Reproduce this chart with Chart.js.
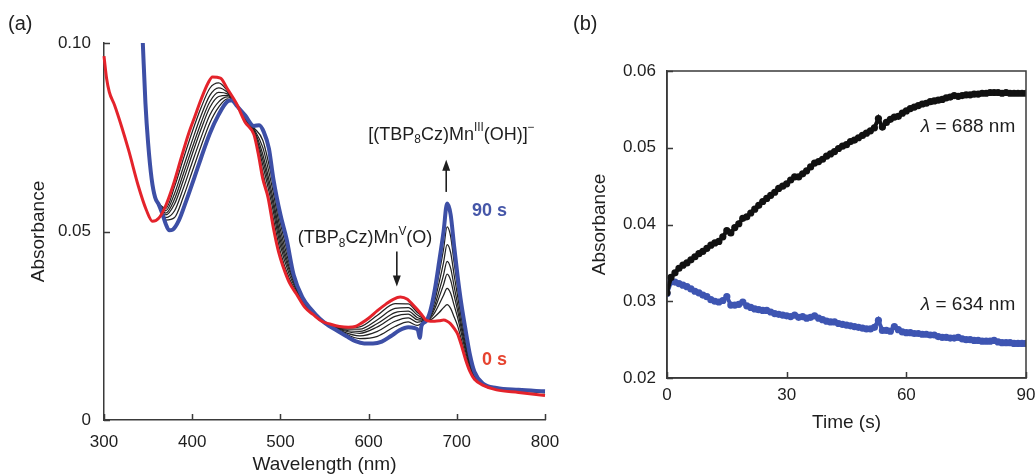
<!DOCTYPE html>
<html>
<head>
<meta charset="utf-8">
<title>Mn(V)-oxo decay spectra</title>
<script src="https://cdn.jsdelivr.net/npm/chart.js@4.4.0/dist/chart.umd.min.js"></script>
<style>
    html, body { margin: 0; padding: 0; background: #fff; }
    body { width: 1035px; height: 476px; position: relative; overflow: hidden; font-family: "Liberation Sans", Arial, sans-serif; }
    .panel { position: absolute; top: 0; }
    /* canvases are a bit wider than their panels so the last tick label fits */
    #panel-a { left: 0; width: 572px; height: 476px; }
    #panel-b { left: 560px; width: 485px; height: 476px; }
    .tag { position: absolute; top: 12px; font-size: 20px; color: #222; z-index: 2; }
</style>
</head>
<body>
<div class="tag" style="left:8px">(a)</div>
<div class="tag" style="left:573px">(b)</div>
<div id="panel-a" class="panel"><canvas id="spectra" width="572" height="476"></canvas></div>
<div id="panel-b" class="panel"><canvas id="kinetics" width="485" height="476"></canvas></div>

<script>
// ---- (a) spectra: 0 s (red), 90 s (blue) and the scans in between ----
const wlRed = [300, 303, 306, 312, 320, 328, 339, 348, 355, 362, 369, 378, 388, 396, 403, 410, 418, 423, 432, 440,
    450, 460, 470, 475, 480, 486, 492, 498, 503, 510, 518, 528, 537, 547, 557, 567, 577, 585, 592, 600,
    610, 620, 628, 636, 644, 650, 655, 660, 665, 670, 675, 680, 685, 689, 693, 697, 701, 705, 710, 715,
    720, 730, 745, 770, 800];
const absRed = [0.0965, 0.0905, 0.0870, 0.0835, 0.0778, 0.0715, 0.0620, 0.0557, 0.0527, 0.0535, 0.0563, 0.0620, 0.0699, 0.0760, 0.0805, 0.0850, 0.0894, 0.0910, 0.0907, 0.0878,
    0.0840, 0.0790, 0.0757, 0.0705, 0.0640, 0.0590, 0.0510, 0.0445, 0.0407, 0.0365, 0.0335, 0.0298, 0.0280, 0.0262, 0.0254, 0.0248, 0.0246, 0.0248, 0.0257, 0.0270,
    0.0290, 0.0308, 0.0320, 0.0326, 0.0320, 0.0306, 0.0294, 0.0280, 0.0265, 0.0262, 0.0262, 0.0263, 0.0265, 0.0262, 0.0255, 0.0243, 0.0228, 0.0200, 0.0160, 0.0128,
    0.0108, 0.0092, 0.0080, 0.0073, 0.0065];

const wlBlue = [344, 347, 350, 354, 358, 362, 366, 370, 374, 378, 385, 393, 403, 410, 420, 430, 440, 445, 450, 460,
    470, 476, 481, 487, 492, 500, 507, 515, 525, 535, 545, 555, 565, 575, 585, 595, 605, 615, 625, 635,
    645, 652, 656, 658, 660, 665, 670, 675, 680, 685, 689, 693, 697, 701, 705, 710, 715, 720, 730, 745,
    770, 800];
const absBlue = [0.1000, 0.0840, 0.0735, 0.0640, 0.0590, 0.0572, 0.0548, 0.0520, 0.0503, 0.0505, 0.0530, 0.0580, 0.0647, 0.0695, 0.0760, 0.0810, 0.0845, 0.0848, 0.0835, 0.0808,
    0.0780, 0.0782, 0.0765, 0.0720, 0.0640, 0.0545, 0.0480, 0.0385, 0.0325, 0.0293, 0.0268, 0.0250, 0.0236, 0.0222, 0.0209, 0.0203, 0.0203, 0.0208, 0.0222, 0.0238,
    0.0246, 0.0244, 0.0238, 0.0218, 0.0250, 0.0262, 0.0290, 0.0345, 0.0420, 0.0500, 0.0574, 0.0545, 0.0460, 0.0380, 0.0310, 0.0238, 0.0172, 0.0128, 0.0096, 0.0085,
    0.0080, 0.0076];

const wlMid = [360, 370, 380, 390, 400, 410, 420, 430, 440, 450, 460, 470, 480, 490, 500, 510, 520, 530, 550, 570,
    590, 610, 630, 645, 655, 660, 665, 670, 675, 680, 685, 689, 693, 697, 701, 705, 710, 715, 720, 730,
    745, 770, 800];
const absMid1 = [0.0579, 0.0561, 0.0619, 0.0693, 0.0764, 0.0828, 0.0880, 0.0894, 0.0873, 0.0839, 0.0793, 0.0760, 0.0658, 0.0556, 0.0446, 0.0376, 0.0332, 0.0296, 0.0260, 0.0244,
    0.0247, 0.0278, 0.0309, 0.0308, 0.0286, 0.0276, 0.0265, 0.0266, 0.0274, 0.0285, 0.0298, 0.0306, 0.0296, 0.0273, 0.0249, 0.0215, 0.0171, 0.0134, 0.0111, 0.0093,
    0.0083, 0.0078, 0.0072];
const absMid2 = [0.0580, 0.0555, 0.0601, 0.0671, 0.0741, 0.0807, 0.0861, 0.0881, 0.0869, 0.0839, 0.0795, 0.0763, 0.0676, 0.0575, 0.0462, 0.0387, 0.0336, 0.0298, 0.0260, 0.0242,
    0.0241, 0.0266, 0.0296, 0.0298, 0.0279, 0.0272, 0.0264, 0.0270, 0.0285, 0.0307, 0.0331, 0.0349, 0.0336, 0.0304, 0.0271, 0.0231, 0.0182, 0.0140, 0.0114, 0.0093,
    0.0084, 0.0079, 0.0073];
const absMid3 = [0.0580, 0.0549, 0.0586, 0.0653, 0.0722, 0.0788, 0.0844, 0.0869, 0.0865, 0.0838, 0.0797, 0.0766, 0.0691, 0.0591, 0.0476, 0.0397, 0.0339, 0.0300, 0.0260, 0.0240,
    0.0235, 0.0256, 0.0285, 0.0289, 0.0272, 0.0268, 0.0264, 0.0273, 0.0295, 0.0326, 0.0359, 0.0387, 0.0371, 0.0330, 0.0289, 0.0244, 0.0191, 0.0146, 0.0116, 0.0094,
    0.0084, 0.0079, 0.0073];
const absMid4 = [0.0581, 0.0544, 0.0573, 0.0636, 0.0705, 0.0771, 0.0829, 0.0858, 0.0861, 0.0837, 0.0799, 0.0769, 0.0705, 0.0606, 0.0489, 0.0405, 0.0342, 0.0302, 0.0259, 0.0238,
    0.0230, 0.0247, 0.0275, 0.0281, 0.0266, 0.0265, 0.0263, 0.0276, 0.0304, 0.0343, 0.0385, 0.0421, 0.0403, 0.0354, 0.0306, 0.0256, 0.0200, 0.0150, 0.0118, 0.0094,
    0.0085, 0.0080, 0.0074];
const absMid5 = [0.0582, 0.0537, 0.0555, 0.0615, 0.0683, 0.0749, 0.0809, 0.0844, 0.0857, 0.0837, 0.0802, 0.0772, 0.0723, 0.0625, 0.0505, 0.0416, 0.0346, 0.0304, 0.0259, 0.0235,
    0.0223, 0.0235, 0.0262, 0.0271, 0.0259, 0.0261, 0.0263, 0.0280, 0.0316, 0.0365, 0.0418, 0.0465, 0.0444, 0.0384, 0.0327, 0.0272, 0.0211, 0.0157, 0.0121, 0.0095,
    0.0085, 0.0080, 0.0074];
const absMid6 = [0.0583, 0.0530, 0.0537, 0.0592, 0.0659, 0.0726, 0.0788, 0.0830, 0.0852, 0.0836, 0.0804, 0.0775, 0.0742, 0.0645, 0.0522, 0.0428, 0.0350, 0.0306, 0.0259, 0.0233,
    0.0216, 0.0222, 0.0248, 0.0260, 0.0251, 0.0256, 0.0263, 0.0284, 0.0328, 0.0389, 0.0453, 0.0512, 0.0487, 0.0417, 0.0350, 0.0288, 0.0222, 0.0163, 0.0124, 0.0095,
    0.0086, 0.0081, 0.0075];
const midScans = [absMid1, absMid2, absMid3, absMid4, absMid5, absMid6];

// ---- (b) time traces at 688 nm (black) and 634 nm (blue) ----
const timeSec = [0, 1, 2, 3, 4, 5, 6, 7, 8, 9, 10, 11, 12, 13, 14, 15, 16, 17, 18, 19,
    20, 21, 22, 23, 24, 25, 26, 27, 28, 29, 30, 31, 32, 33, 34, 35, 36, 37, 38, 39,
    40, 41, 42, 43, 44, 45, 46, 47, 48, 49, 50, 51, 52, 53, 54, 55, 56, 57, 58, 59,
    60, 61, 62, 63, 64, 65, 66, 67, 68, 69, 70, 71, 72, 73, 74, 75, 76, 77, 78, 79,
    80, 81, 82, 83, 84, 85, 86, 87, 88, 89, 90];
const abs688 = [0.0311, 0.0331, 0.0337, 0.0343, 0.0347, 0.0350, 0.0354, 0.0358, 0.0362, 0.0365, 0.0369, 0.0373, 0.0376, 0.0378, 0.0384, 0.0392, 0.0389, 0.0396, 0.0401, 0.0408,
    0.0410, 0.0415, 0.0420, 0.0425, 0.0430, 0.0434, 0.0438, 0.0442, 0.0447, 0.0450, 0.0453, 0.0458, 0.0462, 0.0462, 0.0466, 0.0470, 0.0475, 0.0480, 0.0482, 0.0485,
    0.0489, 0.0492, 0.0495, 0.0499, 0.0502, 0.0504, 0.0508, 0.0510, 0.0513, 0.0516, 0.0519, 0.0522, 0.0526, 0.0538, 0.0527, 0.0533, 0.0537, 0.0540, 0.0541, 0.0545,
    0.0548, 0.0551, 0.0553, 0.0555, 0.0557, 0.0558, 0.0560, 0.0561, 0.0562, 0.0563, 0.0565, 0.0566, 0.0568, 0.0567, 0.0568, 0.0569, 0.0569, 0.0570, 0.0570, 0.0571,
    0.0571, 0.0572, 0.0572, 0.0572, 0.0571, 0.0572, 0.0571, 0.0571, 0.0571, 0.0571, 0.0571];
const abs634 = [0.0310, 0.0325, 0.0325, 0.0323, 0.0321, 0.0319, 0.0316, 0.0313, 0.0311, 0.0308, 0.0306, 0.0302, 0.0300, 0.0299, 0.0301, 0.0306, 0.0295, 0.0295, 0.0296, 0.0299,
    0.0294, 0.0292, 0.0290, 0.0289, 0.0288, 0.0288, 0.0286, 0.0284, 0.0283, 0.0282, 0.0281, 0.0280, 0.0282, 0.0279, 0.0280, 0.0278, 0.0279, 0.0281, 0.0278, 0.0276,
    0.0274, 0.0273, 0.0273, 0.0271, 0.0270, 0.0269, 0.0268, 0.0267, 0.0266, 0.0265, 0.0264, 0.0264, 0.0266, 0.0275, 0.0262, 0.0262, 0.0261, 0.0267, 0.0263, 0.0260,
    0.0259, 0.0259, 0.0258, 0.0258, 0.0257, 0.0257, 0.0256, 0.0256, 0.0254, 0.0253, 0.0253, 0.0252, 0.0252, 0.0253, 0.0251, 0.0250, 0.0250, 0.0249, 0.0249, 0.0248,
    0.0248, 0.0248, 0.0249, 0.0247, 0.0246, 0.0246, 0.0246, 0.0245, 0.0245, 0.0245, 0.0245];

const FONT = '"Liberation Sans", Arial, Helvetica, sans-serif';
const INK = '#1e1e1e';
const AXIS = '#3a3a3a';
const RED = '#e4232b';
const BLUE = '#3d4fa6';

function pairs(xs, ys) {
    return xs.map((x, i) => ({ x: x, y: ys[i] }));
}

// text made of runs: [text, kind] with kind '', 'sub', 'sup' or 'it'
function richText(ctx, parts, x, y, size, align, color, weight) {
    const fontFor = k => {
        const s = (k === 'sub' || k === 'sup') ? size * 0.66 : size;
        return (k === 'it' ? 'italic ' : '') + (weight || 'normal') + ' ' + s + 'px ' + FONT;
    };
    let w = 0;
    parts.forEach(([t, k]) => { ctx.font = fontFor(k); w += ctx.measureText(t).width; });
    let cx = align === 'center' ? x - w / 2 : (align === 'right' ? x - w : x);
    ctx.save();
    ctx.fillStyle = color;
    ctx.textBaseline = 'middle';
    ctx.textAlign = 'left';
    parts.forEach(([t, k]) => {
        ctx.font = fontFor(k);
        const dy = k === 'sub' ? size * 0.3 : (k === 'sup' ? -size * 0.36 : 0);
        ctx.fillText(t, cx, y + dy);
        cx += ctx.measureText(t).width;
    });
    ctx.restore();
}

function arrow(ctx, x, yFrom, yTip) {
    const dir = Math.sign(yTip - yFrom);
    ctx.save();
    ctx.strokeStyle = INK;
    ctx.fillStyle = INK;
    ctx.lineWidth = 1.6;
    ctx.beginPath();
    ctx.moveTo(x, yFrom);
    ctx.lineTo(x, yTip - dir * 8);
    ctx.stroke();
    ctx.beginPath();
    ctx.moveTo(x, yTip);
    ctx.lineTo(x - 4, yTip - dir * 11);
    ctx.lineTo(x + 4, yTip - dir * 11);
    ctx.closePath();
    ctx.fill();
    ctx.restore();
}

// tick marks pointing into the plot, optional closed frame
const inwardTicks = {
    id: 'inwardTicks',
    afterDatasetsDraw(chart, args, opts) {
        const { ctx, chartArea: a, scales } = chart;
        ctx.save();
        ctx.strokeStyle = AXIS;
        ctx.lineWidth = 1.5;
        ctx.beginPath();
        scales.x.ticks.forEach(t => {
            const px = Math.round(scales.x.getPixelForValue(t.value)) + 0.5;
            ctx.moveTo(px, a.bottom);
            ctx.lineTo(px, a.bottom - opts.len);
        });
        scales.y.ticks.forEach(t => {
            const py = Math.round(scales.y.getPixelForValue(t.value)) + 0.5;
            ctx.moveTo(a.left, py);
            ctx.lineTo(a.left + opts.len, py);
        });
        ctx.stroke();
        if (opts.box) {
            ctx.strokeRect(a.left, a.top, a.right - a.left, a.bottom - a.top);
        }
        ctx.restore();
    }
};

const spectraNotes = {
    id: 'spectraNotes',
    afterDraw(chart) {
        const { ctx, scales: { x, y } } = chart;
        const X = v => x.getPixelForValue(v);
        const Y = v => y.getPixelForValue(v);
        richText(ctx, [['[(TBP', ''], ['8', 'sub'], ['Cz)Mn', ''], ['III', 'sup'], ['(OH)]', ''], ['\u2212', 'sup']],
            X(694), Y(0.0757), 18, 'center', INK);
        arrow(ctx, X(688), Y(0.0605), Y(0.069));
        richText(ctx, [['(TBP', ''], ['8', 'sub'], ['Cz)Mn', ''], ['V', 'sup'], ['(O)', '']],
            X(596), Y(0.0483), 18, 'center', INK);
        arrow(ctx, X(632), Y(0.0447), Y(0.0354));
        richText(ctx, [['90 s', '']], X(757), Y(0.0553), 18, 'right', '#4556a8', 'bold');
        richText(ctx, [['0 s', '']], X(757), Y(0.0159), 18, 'right', '#e6432f', 'bold');
    }
};

const kineticsNotes = {
    id: 'kineticsNotes',
    afterDraw(chart) {
        const { ctx, scales: { x, y } } = chart;
        richText(ctx, [['\u03bb', 'it'], [' = 688 nm', '']], x.getPixelForValue(87.3), y.getPixelForValue(0.0527), 19, 'right', INK);
        richText(ctx, [['\u03bb', 'it'], [' = 634 nm', '']], x.getPixelForValue(87.3), y.getPixelForValue(0.0295), 19, 'right', INK);
    }
};

function axis(opts) {
    return Object.assign({
        type: 'linear',
        grid: { display: false, drawTicks: false },
        border: { display: true, color: AXIS, width: 1.5 },
    }, opts);
}

const tickFont = { family: FONT, size: 17 };
const titleFont = { family: FONT, size: 19 };

const spectraSets = [
    { data: pairs(wlRed, absRed), borderColor: RED, borderWidth: 3 },
    { data: pairs(wlBlue, absBlue), borderColor: BLUE, borderWidth: 4 },
    ...midScans.map(scan => ({ data: pairs(wlMid, scan), borderColor: '#222', borderWidth: 1.25 }))
].map(ds => Object.assign(ds, {
    showLine: true,
    pointRadius: 0,
    cubicInterpolationMode: 'monotone',
    clip: 4
}));

new Chart(document.getElementById('spectra'), {
    type: 'scatter',
    data: { datasets: spectraSets },
    options: {
        responsive: false,
        animation: false,
        events: [],
        layout: { padding: { left: 0, right: 27, top: 43, bottom: 0 } },
        plugins: { legend: { display: false }, tooltip: { enabled: false }, inwardTicks: { len: 6, box: false } },
        scales: {
            x: axis({
                min: 300, max: 800,
                ticks: { stepSize: 100, padding: 12, color: INK, font: tickFont },
                title: { display: true, text: 'Wavelength (nm)', color: INK, font: titleFont, padding: { top: 0, bottom: 0 } },
                afterFit: s => { s.height = 56; }
            }),
            y: axis({
                min: 0, max: 0.1,
                ticks: { stepSize: 0.05, padding: 13, color: INK, font: tickFont,
                    callback: v => (v === 0 ? '0' : v.toFixed(2)) },
                title: { display: true, text: 'Absorbance', color: INK, font: titleFont, padding: { top: 27, bottom: 0 } },
                afterFit: s => { s.width = 104; }
            })
        }
    },
    plugins: [inwardTicks, spectraNotes]
});

// dense readings: a thin trace under the dots keeps the band continuous
const traceStyle = { showLine: true, borderWidth: 4, pointRadius: 3.6, pointBorderWidth: 0 };

new Chart(document.getElementById('kinetics'), {
    type: 'scatter',
    data: {
        datasets: [
            Object.assign({ data: pairs(timeSec, abs688), backgroundColor: '#111', borderColor: '#111' }, traceStyle),
            Object.assign({ data: pairs(timeSec, abs634), backgroundColor: '#3e55b2', borderColor: '#3e55b2' }, traceStyle)
        ]
    },
    options: {
        responsive: false,
        animation: false,
        events: [],
        layout: { padding: { left: 0, right: 19, top: 71, bottom: 42 } },
        plugins: { legend: { display: false }, tooltip: { enabled: false }, inwardTicks: { len: 6, box: true } },
        scales: {
            x: axis({
                min: 0, max: 90,
                ticks: { stepSize: 30, padding: 7, color: INK, font: tickFont },
                title: { display: true, text: 'Time (s)', color: INK, font: titleFont, padding: { top: 0, bottom: 0 } },
                afterFit: s => { s.height = 56; }
            }),
            y: axis({
                min: 0.02, max: 0.06,
                ticks: { stepSize: 0.01, padding: 11, color: INK, font: tickFont, callback: v => v.toFixed(2) },
                title: { display: true, text: 'Absorbance', color: INK, font: titleFont, padding: { top: 28, bottom: 0 } },
                afterFit: s => { s.width = 107; }
            })
        }
    },
    plugins: [inwardTicks, kineticsNotes]
});
</script>
</body>
</html>
